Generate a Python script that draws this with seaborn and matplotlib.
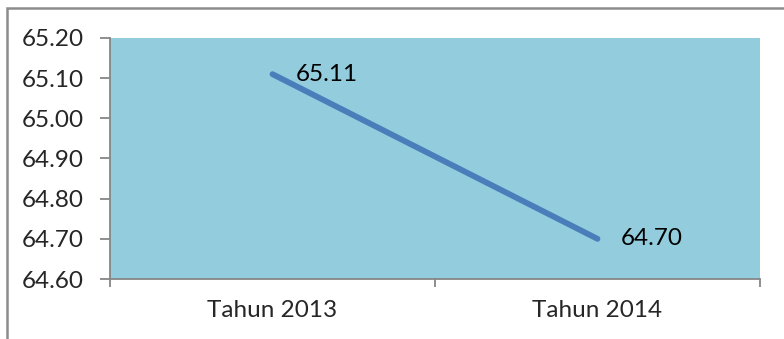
import pandas as pd
import matplotlib.pyplot as plt
import matplotlib.patches as mpatches
import seaborn as sns

# data
tahun = ["Tahun 2013", "Tahun 2014"]
nilai = [65.11, 64.70]
y_ticks = [64.60, 64.70, 64.80, 64.90, 65.00, 65.10, 65.20]

df = pd.DataFrame({"tahun": tahun, "nilai": nilai})

sns.set_style("white")
plt.rcParams['font.family'] = ['Lato', 'DejaVu Sans']

fig = plt.figure(figsize=(7.84, 3.39), dpi=100)
ax = fig.add_axes([110 / 784, 1 - 279 / 339, 650 / 784, 241 / 339])
ax.set_facecolor("#93cddd")

sns.lineplot(data=df, x="tahun", y="nilai", color="#4a7ebb", linewidth=4.2,
             solid_capstyle="round", ax=ax)

for i, v in enumerate(nilai):
    ax.annotate(f"{v:.2f}", (i, v), xytext=(17, 0), textcoords="offset points",
                ha="left", va="center", fontsize=17.5, color="black")

ax.set_xlim(-0.5, 1.5)
ax.set_ylim(64.60, 65.20)
ax.set_yticks(y_ticks)
ax.set_yticklabels([f"{t:.2f}" for t in y_ticks])
ax.set_xticks([0, 1])
ax.set_xticks([-0.5, 0.5, 1.5], minor=True)
ax.set_xlabel("")
ax.set_ylabel("")

ax.tick_params(axis="y", which="major", length=7, width=1.3, color="#868686",
               labelsize=17.5, pad=12, left=True)
ax.tick_params(axis="x", which="major", length=0, labelsize=17.5, pad=15)
ax.tick_params(axis="x", which="minor", length=6, width=1.3, color="#868686",
               bottom=True)

for side in ["top", "right"]:
    ax.spines[side].set_visible(False)
for side in ["left", "bottom"]:
    ax.spines[side].set_color("#868686")
    ax.spines[side].set_linewidth(1.3)

# outer chart border (partly cropped in the original)
fig.patches.append(mpatches.Rectangle((7 / 784, -0.2), 1.2, 1.2 - 8 / 339,
                                      transform=fig.transFigure, fill=False,
                                      edgecolor="#8c8c8c", linewidth=1.8,
                                      clip_on=False))

fig.savefig("out.png", dpi=100)
